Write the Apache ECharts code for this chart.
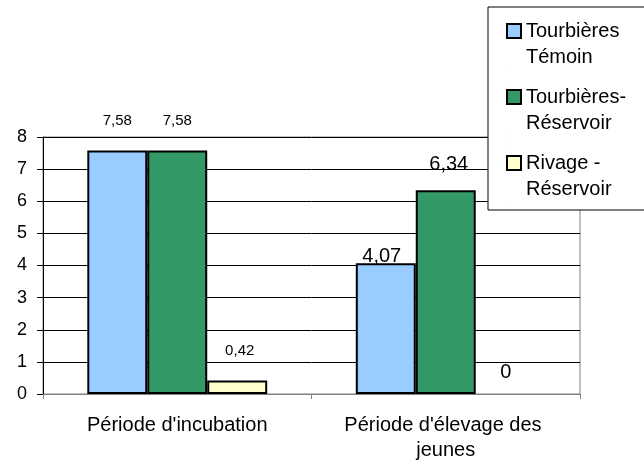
<!DOCTYPE html>
<html>
<head>
<meta charset="utf-8">
<script src="https://cdn.jsdelivr.net/npm/echarts@6/dist/echarts.min.js"></script>
<style>
  html, body { margin: 0; padding: 0; background: #fff; }
  #chart { width: 644px; height: 462px; }
</style>
</head>
<body>
<div id="chart"></div>
<script>
// Periods on the category axis
const categories = ["Période d'incubation", "Période d'élevage des jeunes"];

// Series names (two-line legend entries)
const seriesNames = ['Tourbières\nTémoin', 'Tourbières-\nRéservoir', 'Rivage -\nRéservoir'];

// Values per series, one per period
const temoinValues = [7.58, 4.07];
const reservoirValues = [7.58, 6.34];
const rivageValues = [0.42, 0];

// Y axis ticks
const yTicks = [0, 1, 2, 3, 4, 5, 6, 7, 8];

const colors = ['#99CCFF', '#339966', '#FFFFCC'];
const FONT = "'Liberation Sans', Arial, sans-serif";

// Label placement per point: [distance, xOffset, fontSize]
const labelPlacement = [
  [[22, 0, 15], [-3, -4, 20]],
  [[22, 0, 15], [16, 3, 20]],
  [[22.5, 2.5, 15], [11.5, 0, 20]]
];

const valueSets = [temoinValues, reservoirValues, rivageValues];

// Legend swatch sits beside the first text line; invisible end points keep the
// symbol box as tall as the two-line label.
const legendIcon = 'path://M0,0L0.01,0M0,6L14,6L14,20L0,20ZM0,52L0.01,52';

function buildSeries(i) {
  return {
    name: seriesNames[i],
    type: 'bar',
    barGap: '0%',
    barCategoryGap: '33%',
    itemStyle: { color: colors[i], borderColor: '#000', borderWidth: 2 },
    data: valueSets[i].map(function (v, j) {
      const p = labelPlacement[i][j];
      const item = {
        value: v,
        label: {
          show: true,
          position: 'top',
          distance: p[0],
          offset: [p[1], 0],
          fontSize: p[2],
          fontFamily: FONT,
          color: '#000',
          formatter: function (d) { return String(d.value).replace('.', ','); }
        }
      };
      if (v === 0) {
        item.itemStyle = { borderWidth: 0 };
      }
      return item;
    })
  };
}

const chart = echarts.init(document.getElementById('chart'), null, { renderer: 'canvas' });
chart.setOption({
  animation: false,
  backgroundColor: '#fff',
  textStyle: { fontFamily: FONT },
  grid: {
    left: 43, right: 64, top: 137, bottom: 68,
    containLabel: false,
    outerBoundsMode: 'none',
    show: true, borderColor: '#808080', borderWidth: 1, backgroundColor: 'transparent'
  },
  legend: {
    orient: 'vertical',
    left: 488,
    top: 7,
    padding: [10, 40, 7, 18],
    backgroundColor: '#fff',
    borderColor: '#000',
    borderWidth: 1,
    borderRadius: 0,
    itemWidth: 14,
    itemHeight: 52,
    itemGap: 12,
    icon: legendIcon,
    data: seriesNames,
    textStyle: {
      fontSize: 20,
      fontFamily: FONT,
      color: '#000',
      lineHeight: 26
    }
  },
  xAxis: {
    type: 'category',
    data: categories,
    axisLine: { lineStyle: { color: '#808080', width: 1 } },
    axisTick: { show: true, alignWithLabel: false, length: 5, lineStyle: { color: '#808080' } },
    axisLabel: {
      color: '#000',
      fontSize: 20,
      fontFamily: FONT,
      margin: 19,
      lineHeight: 25,
      width: 240,
      overflow: 'break',
      interval: 0
    },
    splitLine: { show: false }
  },
  yAxis: {
    type: 'value',
    min: yTicks[0],
    max: yTicks[yTicks.length - 1],
    interval: 1,
    axisLine: { show: true, lineStyle: { color: '#000', width: 1 } },
    axisTick: { show: true, length: 6, lineStyle: { color: '#000' } },
    axisLabel: { color: '#000', fontSize: 18, fontFamily: FONT, margin: 16 },
    splitLine: { show: true, lineStyle: { color: '#000', width: 1 } }
  },
  series: [buildSeries(0), buildSeries(1), buildSeries(2)]
});
</script>
</body>
</html>
